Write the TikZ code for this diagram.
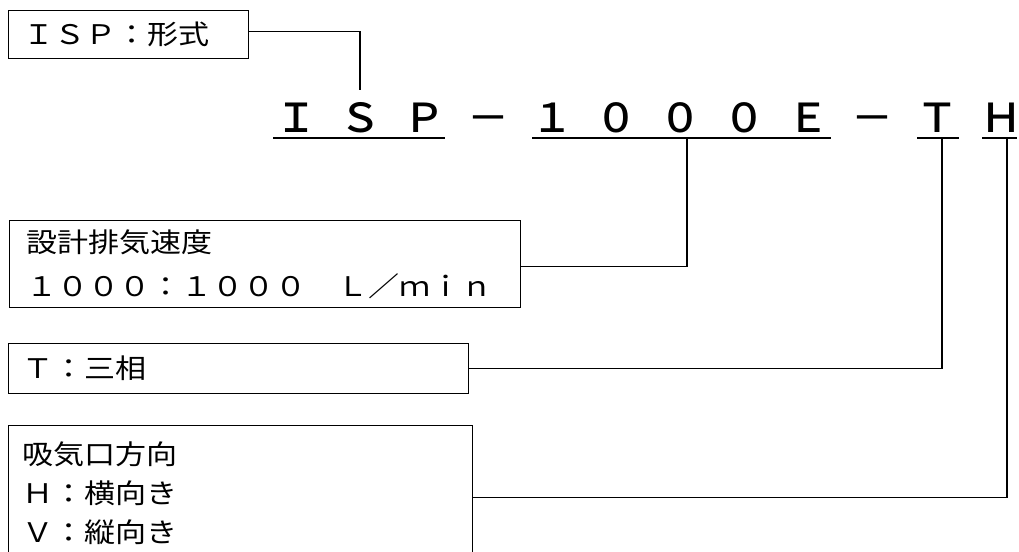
\documentclass[tikz,border=0pt]{standalone}
\usepackage{fontspec}
\newfontfamily\jp[FakeStretch=1.15]{Noto Sans CJK JP}
\IfFontExistsTF{Noto Sans CJK JP Medium}
  {\newfontfamily\jpcode[FakeStretch=1.05]{Noto Sans CJK JP Medium}}
  {\newfontfamily\jpcode[FakeStretch=1.0]{Noto Sans CJK JP Bold}}
\usepackage{tikz}

\begin{document}
\begin{tikzpicture}[x=1pt,y=-1pt,
  box/.style={draw,line width=1.3pt,anchor=north west,align=left,inner ysep=0pt,
    font=\jp\fontsize{27}{44}\selectfont},
  wire/.style={line width=1.3pt},
  code/.style={anchor=base,inner sep=0pt,font=\jpcode\fontsize{40}{40}\selectfont}]
\useasboundingbox (0,0) rectangle (1019,551);
% model code
\foreach \ch [count=\i] in {Ｉ,Ｓ,Ｐ,－,１,０,０,０,Ｅ,－,Ｔ,Ｈ}
  \node[code] (c\i) at ({296+64.1*(\i-1)},132) {\ch};
\draw[wire] (273,138) -- (445,138);
\draw[wire] (532,138) -- (831,138);
\draw[wire] (917,138) -- (959,138);
\draw[wire] (982,138) -- (1017,138);
\coordinate (tapS) at (360,90);
\coordinate (tap1000) at (687,138);
\coordinate (tapT) at (942,138);
\coordinate (tapH) at (1007,138);
% boxes
\node[box,inner xsep=15pt,text width=210pt,minimum height=48pt] (form) at (8,10) {ＩＳＰ：形式};
\node[box,inner xsep=17pt,text width=477pt,minimum height=87pt] (speed) at (9,220)
  {設計排気速度\\１０００：１０００　Ｌ／ｍｉｎ};
\node[box,inner xsep=14pt,text width=432pt,minimum height=50pt] (phase) at (8,343) {Ｔ：三相};
\node[box,inner xsep=14pt,text width=436pt,minimum height=136pt,
  font=\jp\fontsize{27}{39}\selectfont] (inlet) at (8,425)
  {吸気口方向\\Ｈ：横向き\\Ｖ：縦向き};
% connectors
\draw[wire] ([yshift=3pt]form.east) -| (tapS);
\draw[wire] ([yshift=-2.5pt]speed.east) -| (tap1000);
\draw[wire] (phase.east) -| (tapT);
\draw[wire] ([yshift=-4pt]inlet.east) -| (tapH);
\end{tikzpicture}
\end{document}
